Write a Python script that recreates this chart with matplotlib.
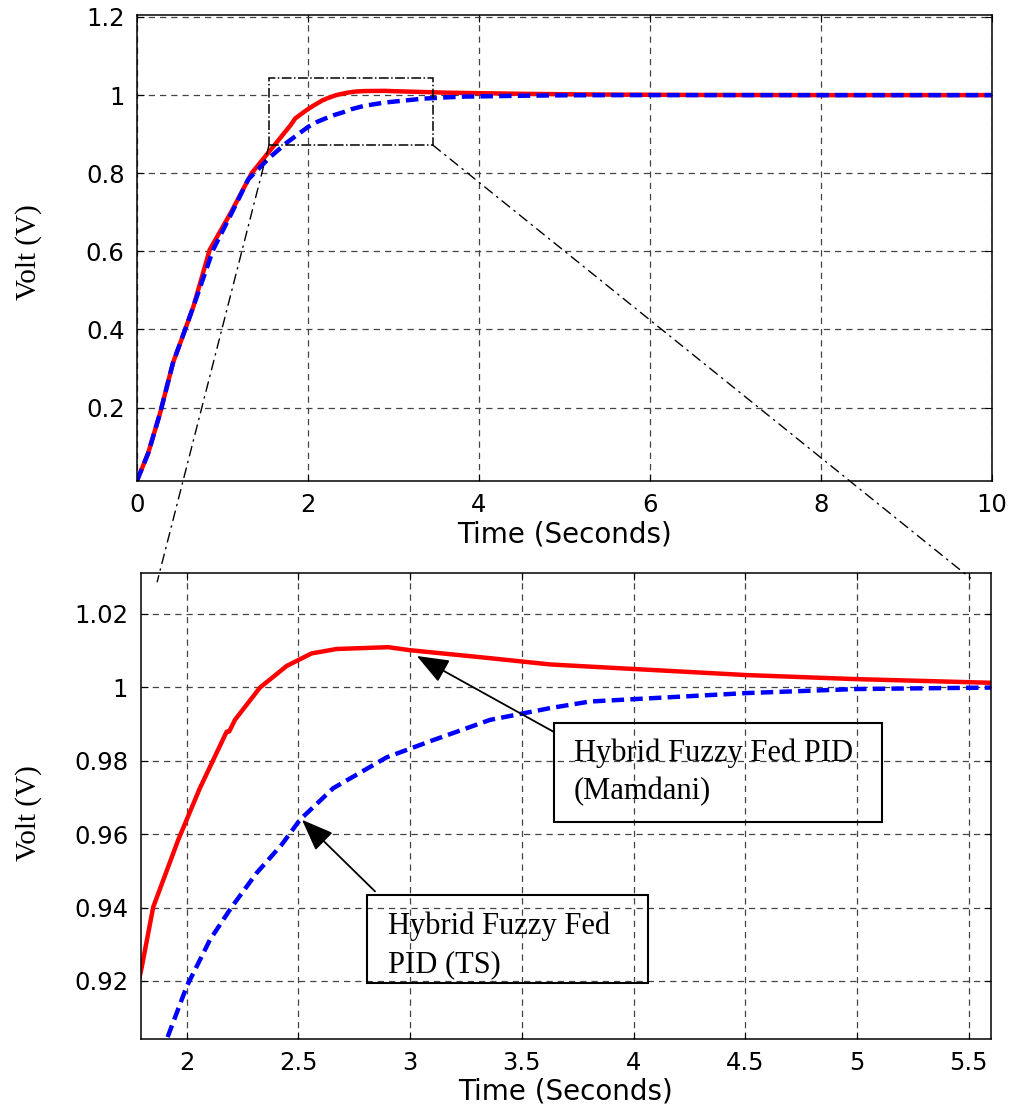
import numpy as np
import matplotlib
matplotlib.use("Agg")
import matplotlib.pyplot as plt
from matplotlib.patches import Rectangle, ConnectionPatch

# Step responses
t_mamdani = [0, 0.13, 0.27, 0.42, 0.52, 0.66, 0.85, 1.1, 1.34, 1.6, 1.798, 1.85, 1.962,
             2.059, 2.179, 2.19, 2.216, 2.328, 2.448, 2.559, 2.671, 2.902, 2.996, 3.358,
             3.626, 3.805, 4.507, 4.996, 5.6, 6.5, 8.0, 10.0]
v_mamdani = [0.013, 0.083, 0.186, 0.314, 0.374, 0.459, 0.604, 0.70, 0.80, 0.87, 0.9235,
             0.9401, 0.9584, 0.9725, 0.9879, 0.9879, 0.9911, 0.9999, 1.0058, 1.0092, 1.0104,
             1.0109, 1.0101, 1.0079, 1.0062, 1.0056, 1.0033, 1.0022, 1.0012, 1.0004, 1.0, 1.0]

t_ts = [0, 0.13, 0.27, 0.42, 0.52, 0.66, 0.89, 1.1, 1.3, 1.55, 1.75, 1.91, 2.0, 2.104,
        2.201, 2.313, 2.425, 2.507, 2.656, 2.895, 3.104, 3.358, 3.626, 3.805, 4.507,
        4.996, 5.6, 6.5, 8.0, 10.0]
v_ts = [0.013, 0.083, 0.186, 0.314, 0.374, 0.459, 0.604, 0.695, 0.784, 0.84, 0.878, 0.904,
        0.9185, 0.9312, 0.9401, 0.9494, 0.9571, 0.9639, 0.9725, 0.9809, 0.9856, 0.9911,
        0.9943, 0.9961, 0.9984, 0.9995, 0.9999, 1.0, 1.0, 1.0]

top_xticks = [0, 2, 4, 6, 8, 10]
top_yticks = [0.2, 0.4, 0.6, 0.8, 1.0, 1.2]
zoom_xticks = [2, 2.5, 3, 3.5, 4, 4.5, 5, 5.5]
zoom_yticks = [0.92, 0.94, 0.96, 0.98, 1.0, 1.02]

label_mamdani = "Hybrid Fuzzy Fed PID\n(Mamdani)"
label_ts = "Hybrid Fuzzy Fed\nPID (TS)"

sans = "DejaVu Sans"
serif = "Liberation Serif"

fig = plt.figure(figsize=(10.12, 11.06), dpi=100)
ax1 = fig.add_axes([0.1354, 0.5651, 0.8448, 0.4213])
ax2 = fig.add_axes([0.1390, 0.0609, 0.8402, 0.4207])

red_kw = dict(color="#ff0000", lw=3.2, solid_capstyle="butt")
blue_kw = dict(color="#0000ff", lw=3.2, linestyle=(0, (2.8, 1.4)))

for ax in (ax1, ax2):
    ax.plot(t_mamdani, v_mamdani, **red_kw)
    ax.plot(t_ts, v_ts, **blue_kw)
    ax.grid(True, color="#444444", linestyle=(0, (5, 4)), lw=0.9)
    ax.tick_params(direction="in", top=True, right=True, length=5, width=0.8,
                   labelsize=17.5, pad=9)
    for sp in ax.spines.values():
        sp.set_linewidth(1.1)
    ax.set_ylabel("Volt (V)", family=serif, fontsize=21)
    ax.set_xlabel("Time (Seconds)", family=sans, fontsize=20, labelpad=2)

ax1.yaxis.set_label_coords(-0.111, 0.492)
ax2.yaxis.set_label_coords(-0.116, 0.485)

ax1.set_xlim(0, 10)
ax1.set_ylim(0.012, 1.205)
ax1.set_xticks(top_xticks)
ax1.set_yticks(top_yticks)
ax1.set_yticklabels([f"{v:g}" for v in top_yticks], family=sans)
ax1.set_xticklabels([f"{v:g}" for v in top_xticks], family=sans)

ax2.set_xlim(1.794, 5.6)
ax2.set_ylim(0.9043, 1.031)
ax2.set_xticks(zoom_xticks)
ax2.set_yticks(zoom_yticks)
ax2.set_xticklabels([f"{v:g}" for v in zoom_xticks], family=sans)
ax2.set_yticklabels([f"{v:g}" for v in zoom_yticks], family=sans)

# zoom window on the top plot and the lines that lead to the lower plot
ax1.add_patch(Rectangle((1.544, 0.872), 3.46 - 1.544, 1.045 - 0.872, fill=False,
                        ec="black", lw=1.1, linestyle="-.", zorder=5))
for (xa, ya), (xb, yb) in [((1.544, 0.872), (1.868, 1.0287)),
                           ((3.46, 0.872), (5.508, 1.0297))]:
    con = ConnectionPatch(xyA=(xa, ya), coordsA=ax1.transData,
                          xyB=(xb, yb), coordsB=ax2.transData,
                          color="black", lw=1.0, linestyle=(0, (7, 4, 1, 4)))
    fig.add_artist(con)

# text boxes with arrows
arrow_kw = dict(arrowstyle="-|>,head_length=0.9,head_width=0.35", color="black",
                lw=1.3, shrinkA=0, shrinkB=0, mutation_scale=22)
ax2.annotate("", xy=(3.03, 1.0085), xytext=(3.641, 0.9879), arrowprops=arrow_kw)
ax2.annotate("", xy=(2.516, 0.9639), xytext=(2.843, 0.9444), arrowprops=arrow_kw)

ax2.add_patch(Rectangle((3.644, 0.9634), 5.111 - 3.644, 0.9903 - 0.9634,
                        fc="none", ec="black", lw=1.5, zorder=6))
ax2.add_patch(Rectangle((2.808, 0.91957), 4.066 - 2.808, 0.94347 - 0.91957,
                        fc="none", ec="black", lw=1.5, zorder=6))
ax2.text(3.734, 0.9859, label_mamdani, family=serif, fontsize=22, va="top",
         ha="left", linespacing=1.4, zorder=7)
ax2.text(2.902, 0.9388, label_ts, family=serif, fontsize=22, va="top",
         ha="left", linespacing=1.4, zorder=7)

fig.savefig("out.png", dpi=100)
